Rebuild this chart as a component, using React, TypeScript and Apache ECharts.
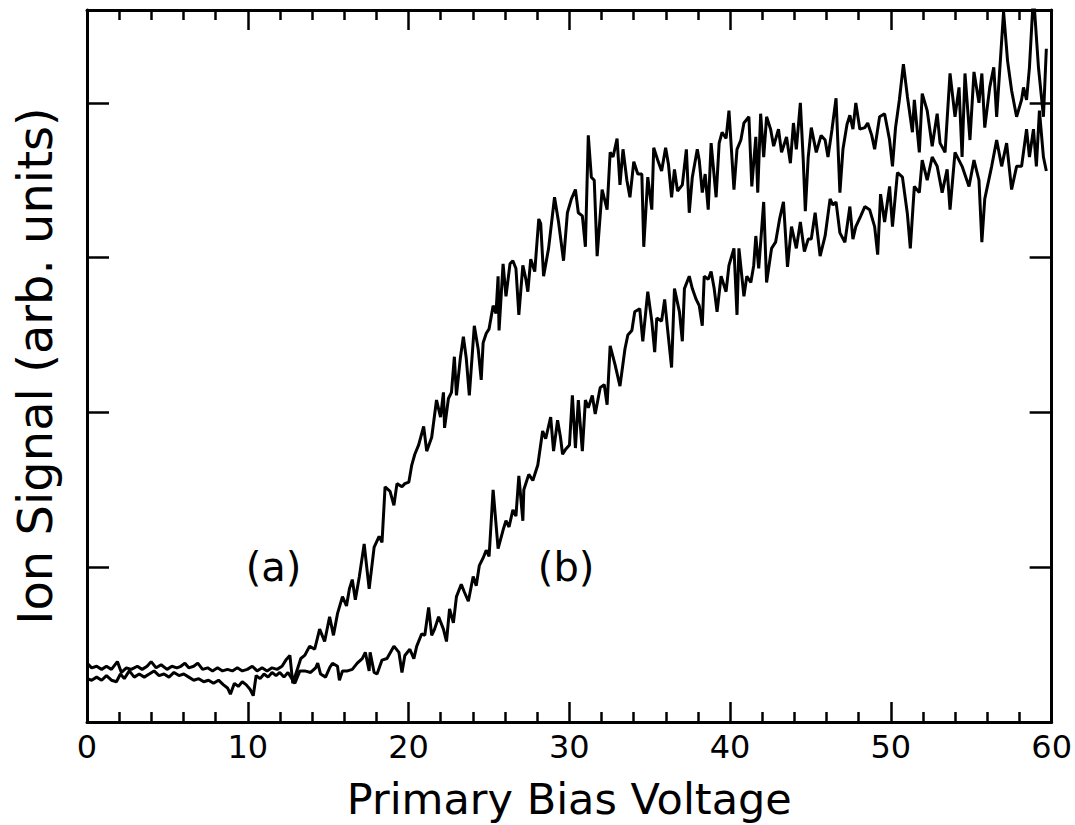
import React, { useEffect, useRef } from "react";
import * as echarts from "echarts";

const xTicks = { min: 0, max: 60, interval: 10 };
const yRange = { min: 0, max: 4.6, interval: 1 };
const xTitle = "Primary Bias Voltage";
const yTitle = "Ion Signal (arb. units)";

const annotations: [number, number, string][] = [
  [11.6, 1.0, "(a)"],
  [29.8, 1.0, "(b)"],
];

const curveA: [number, number][] = [
  [0, 0.38], [0.29, 0.35], [0.6, 0.36], [0.91, 0.34], [1.21, 0.36], [1.52, 0.34], [1.89, 0.39], [2.14, 0.32],
  [2.45, 0.35], [2.76, 0.34], [3.13, 0.36], [3.43, 0.34], [3.74, 0.36], [3.99, 0.39], [4.3, 0.35], [4.61, 0.37],
  [4.98, 0.34], [5.28, 0.36], [5.59, 0.35], [5.84, 0.36], [6.09, 0.38], [6.33, 0.35], [6.64, 0.36], [6.89, 0.38],
  [7.19, 0.34], [7.5, 0.35], [7.81, 0.33], [8.12, 0.35], [8.43, 0.33], [8.74, 0.34], [9.04, 0.33], [9.35, 0.35],
  [9.66, 0.33], [9.97, 0.34], [10.28, 0.36], [10.58, 0.33], [10.89, 0.35], [11.2, 0.33], [11.51, 0.35], [11.82, 0.34],
  [12.13, 0.36], [12.37, 0.4], [12.62, 0.43], [12.8, 0.25], [13.05, 0.33], [13.3, 0.41], [13.54, 0.43], [13.85, 0.49],
  [14.16, 0.47], [14.47, 0.6], [14.78, 0.52], [15.09, 0.68], [15.33, 0.56], [15.58, 0.7], [15.89, 0.81], [16.14, 0.75],
  [16.32, 0.86], [16.5, 0.92], [16.69, 0.79], [16.94, 0.94], [17.24, 1.15], [17.55, 0.86], [17.86, 1.13], [18.17, 1.2],
  [18.35, 1.16], [18.54, 1.52], [18.85, 1.49], [19.09, 1.4], [19.28, 1.54], [19.59, 1.52], [19.77, 1.54], [20.02, 1.55],
  [20.2, 1.66], [20.39, 1.73], [20.63, 1.79], [20.94, 1.91], [21.13, 1.75], [21.44, 1.84], [21.74, 2.08], [21.99, 1.97],
  [22.17, 2.13], [22.24, 1.9], [22.48, 2.09], [22.67, 2.13], [22.85, 2.36], [22.98, 2.11], [23.22, 2.35], [23.41, 2.49],
  [23.59, 2.35], [23.78, 2.11], [24.09, 2.56], [24.33, 2.41], [24.52, 2.21], [24.64, 2.45], [24.83, 2.51], [25.01, 2.54],
  [25.26, 2.69], [25.44, 2.64], [25.57, 2.88], [25.63, 2.53], [25.88, 2.96], [26.06, 2.75], [26.31, 2.96], [26.49, 2.98],
  [26.68, 2.93], [26.86, 2.63], [27.11, 2.95], [27.3, 2.86], [27.42, 2.78], [27.6, 2.99], [27.85, 2.91], [28.1, 3.25],
  [28.22, 3.22], [28.4, 2.88], [28.71, 3.06], [29.08, 3.39], [29.33, 3.23], [29.64, 2.98], [29.88, 3.29], [30.13, 3.38],
  [30.38, 3.44], [30.56, 3.29], [30.81, 3.27], [31.0, 3.07], [31.18, 3.79], [31.37, 3.52], [31.55, 3.5], [31.73, 3.01],
  [32.04, 3.44], [32.35, 3.31], [32.54, 3.68], [32.72, 3.65], [32.97, 3.77], [33.15, 3.47], [33.34, 3.7], [33.58, 3.5],
  [33.77, 3.39], [34.01, 3.62], [34.26, 3.54], [34.51, 3.54], [34.63, 3.07], [34.88, 3.52], [35.13, 3.31], [35.25, 3.71],
  [35.5, 3.63], [35.74, 3.56], [35.99, 3.71], [36.17, 3.6], [36.36, 3.39], [36.54, 3.57], [36.73, 3.43], [37.03, 3.47],
  [37.28, 3.7], [37.46, 3.29], [37.65, 3.52], [37.96, 3.7], [38.08, 3.63], [38.27, 3.42], [38.45, 3.54], [38.64, 3.31],
  [38.82, 3.74], [39.13, 3.39], [39.32, 3.74], [39.5, 3.81], [39.75, 3.77], [39.93, 3.95], [40.24, 3.44], [40.43, 3.7],
  [40.67, 3.76], [40.86, 3.87], [41.17, 3.91], [41.35, 3.46], [41.6, 3.78], [41.72, 3.42], [41.9, 3.93], [42.09, 3.65],
  [42.27, 3.91], [42.52, 3.83], [42.71, 3.72], [43.01, 3.83], [43.2, 3.68], [43.51, 3.78], [43.75, 3.61], [43.94, 3.87],
  [44.12, 3.7], [44.37, 4.0], [44.55, 3.63], [44.68, 3.3], [44.86, 3.65], [45.05, 3.84], [45.36, 3.68], [45.66, 3.79],
  [45.91, 3.76], [46.09, 3.65], [46.34, 3.83], [46.59, 4.03], [46.83, 3.42], [47.02, 3.7], [47.27, 3.86], [47.45, 3.92],
  [47.64, 3.83], [47.82, 4.0], [48.07, 3.83], [48.38, 3.84], [48.56, 3.87], [48.81, 3.79], [48.99, 3.7], [49.3, 3.91],
  [49.61, 3.93], [49.92, 3.76], [50.1, 3.59], [50.29, 3.84], [50.53, 4.02], [50.78, 4.25], [51.03, 4.04], [51.34, 3.81],
  [51.46, 4.02], [51.77, 3.68], [51.95, 4.06], [52.26, 3.95], [52.57, 3.72], [52.88, 3.93], [53.06, 3.74], [53.37, 3.68],
  [53.68, 4.19], [53.99, 3.91], [54.24, 4.1], [54.43, 3.65], [54.61, 4.19], [54.92, 3.76], [55.17, 4.2], [55.48, 4.0],
  [55.66, 4.19], [55.84, 3.84], [56.15, 4.1], [56.4, 4.23], [56.58, 3.91], [57.01, 4.59], [57.26, 4.27], [57.51, 4.08],
  [57.82, 3.91], [58.13, 4.02], [58.25, 4.1], [58.44, 4.02], [58.62, 4.23], [58.87, 4.7], [59.18, 4.23], [59.49, 3.91],
  [59.67, 4.35],
];

const curveB: [number, number][] = [
  [0, 0.28], [0.29, 0.27], [0.6, 0.29], [0.91, 0.27], [1.21, 0.3], [1.52, 0.27], [1.83, 0.26], [2.08, 0.31],
  [2.32, 0.28], [2.63, 0.33], [2.94, 0.29], [3.25, 0.31], [3.56, 0.29], [3.87, 0.31], [4.17, 0.33], [4.48, 0.3],
  [4.79, 0.31], [5.1, 0.29], [5.41, 0.32], [5.72, 0.3], [6.02, 0.31], [6.33, 0.29], [6.64, 0.27], [6.95, 0.28],
  [7.26, 0.26], [7.56, 0.27], [7.87, 0.25], [8.18, 0.27], [8.49, 0.24], [8.74, 0.22], [8.92, 0.18], [9.17, 0.25],
  [9.41, 0.23], [9.66, 0.26], [9.91, 0.24], [10.15, 0.21], [10.34, 0.17], [10.52, 0.3], [10.77, 0.28], [11.01, 0.31],
  [11.26, 0.29], [11.51, 0.32], [11.76, 0.3], [11.99, 0.32], [12.25, 0.29], [12.5, 0.32], [12.74, 0.28], [12.93, 0.25],
  [13.24, 0.33], [13.54, 0.33], [13.91, 0.32], [14.22, 0.35], [14.35, 0.38], [14.53, 0.31], [14.84, 0.29], [15.09, 0.35],
  [15.27, 0.38], [15.58, 0.36], [15.7, 0.27], [15.89, 0.33], [16.2, 0.33], [16.5, 0.34], [16.81, 0.38], [17.12, 0.41],
  [17.31, 0.45], [17.55, 0.33], [17.61, 0.45], [17.86, 0.32], [18.04, 0.31], [18.35, 0.4], [18.66, 0.41], [19.09, 0.49],
  [19.4, 0.45], [19.59, 0.32], [19.77, 0.43], [20.08, 0.47], [20.33, 0.41], [20.51, 0.49], [20.82, 0.57], [21.01, 0.56],
  [21.25, 0.74], [21.44, 0.56], [21.62, 0.6], [21.87, 0.68], [22.17, 0.6], [22.36, 0.52], [22.55, 0.73], [22.79, 0.64],
  [22.98, 0.81], [23.28, 0.89], [23.47, 0.84], [23.72, 0.78], [24.02, 0.94], [24.21, 0.88], [24.4, 1.01], [24.64, 1.06],
  [24.83, 1.11], [25.01, 1.07], [25.26, 1.5], [25.57, 1.12], [25.88, 1.24], [26.06, 1.3], [26.25, 1.26], [26.49, 1.37],
  [26.68, 1.33], [26.86, 1.59], [27.11, 1.3], [27.17, 1.5], [27.48, 1.6], [27.73, 1.56], [28.04, 1.66], [28.34, 1.88],
  [28.53, 1.83], [28.84, 1.97], [29.02, 1.75], [29.27, 1.95], [29.45, 1.84], [29.58, 1.73], [29.76, 1.76], [30.01, 1.79],
  [30.19, 2.11], [30.38, 1.77], [30.56, 2.08], [30.81, 1.75], [31.0, 2.08], [31.18, 2.03], [31.43, 2.11], [31.61, 1.99],
  [31.92, 2.16], [32.17, 2.18], [32.35, 2.05], [32.54, 2.43], [32.84, 2.31], [33.15, 2.17], [33.46, 2.41], [33.64, 2.5],
  [33.89, 2.53], [34.07, 2.65], [34.38, 2.67], [34.57, 2.46], [34.88, 2.78], [35.13, 2.59], [35.31, 2.39], [35.44, 2.61],
  [35.74, 2.59], [35.93, 2.73], [36.11, 2.54], [36.36, 2.29], [36.54, 2.8], [36.85, 2.65], [37.03, 2.46], [37.16, 2.8],
  [37.46, 2.88], [37.65, 2.8], [37.89, 2.73], [38.08, 2.69], [38.27, 2.56], [38.39, 2.88], [38.64, 2.86], [38.82, 2.91],
  [39.01, 2.8], [39.19, 2.65], [39.44, 2.88], [39.75, 2.78], [39.93, 2.95], [40.24, 3.06], [40.43, 2.63], [40.55, 3.06],
  [40.86, 2.75], [41.04, 2.88], [41.29, 2.84], [41.47, 2.95], [41.6, 3.14], [41.78, 2.93], [42.09, 3.36], [42.27, 2.84],
  [42.58, 3.06], [42.83, 3.1], [43.08, 3.25], [43.32, 3.36], [43.57, 2.94], [43.82, 3.2], [44.12, 3.06], [44.37, 3.23],
  [44.62, 3.04], [44.86, 3.12], [45.05, 3.12], [45.29, 3.29], [45.6, 3.01], [45.91, 3.14], [46.22, 3.38], [46.4, 3.34],
  [46.59, 3.36], [46.83, 3.16], [47.14, 3.1], [47.45, 3.33], [47.64, 3.12], [47.82, 3.2], [48.13, 3.27], [48.38, 3.33],
  [48.68, 3.31], [48.99, 3.2], [49.18, 3.02], [49.36, 3.41], [49.61, 3.23], [49.92, 3.46], [50.1, 3.2], [50.41, 3.55],
  [50.72, 3.52], [51.03, 3.28], [51.21, 3.06], [51.46, 3.46], [51.77, 3.42], [51.95, 3.63], [52.26, 3.5], [52.57, 3.65],
  [52.88, 3.59], [53.19, 3.42], [53.5, 3.57], [53.68, 3.31], [53.99, 3.68], [54.43, 3.59], [54.86, 3.46], [55.17, 3.63],
  [55.48, 3.5], [55.66, 3.1], [55.84, 3.38], [56.27, 3.59], [56.58, 3.76], [56.89, 3.59], [57.2, 3.74], [57.51, 3.44],
  [57.82, 3.59], [58.13, 3.59], [58.44, 3.83], [58.62, 3.65], [58.87, 3.83], [59.05, 3.59], [59.24, 3.95], [59.49, 3.65],
  [59.67, 3.56],
];

const FONT = "DejaVu Sans";
const INK = "#000";

export default function App() {
  const ref = useRef<HTMLDivElement>(null);
  useEffect(() => {
    if (!ref.current) return;
    document.body.style.margin = "0";
    const chart = echarts.init(ref.current, undefined, { renderer: "svg", width: 1075, height: 825 });
    const axisLine = { show: true, onZero: false, lineStyle: { color: INK, width: 3 } };
    const xCommon = {
      type: "value",
      min: xTicks.min,
      max: xTicks.max,
      interval: xTicks.interval,
      axisLine,
      splitLine: { show: false },
      axisTick: { show: true, inside: true, length: 20, lineStyle: { color: INK, width: 2.5 } },
      minorTick: { show: true, splitNumber: 5, length: 10, lineStyle: { color: INK, width: 2.5 } },
      minorSplitLine: { show: false },
    };
    const yCommon = {
      type: "value",
      min: yRange.min,
      max: yRange.max,
      interval: yRange.interval,
      axisLine,
      splitLine: { show: false },
      axisTick: { show: true, inside: true, length: 22, lineStyle: { color: INK, width: 2.5 } },
      axisLabel: { show: false },
    };
    chart.setOption({
      animation: false,
      backgroundColor: "#fff",
      grid: { left: 87, right: 14, top: 10, bottom: 98, containLabel: false },
      xAxis: [
        {
          ...xCommon,
          position: "bottom",
          name: xTitle,
          nameLocation: "middle",
          nameGap: 55,
          nameTextStyle: { fontFamily: FONT, fontSize: 43, color: INK },
          axisLabel: { show: true, margin: 9, fontFamily: FONT, fontSize: 32, color: INK },
        },
        { ...xCommon, position: "top", axisLabel: { show: false } },
      ],
      yAxis: [
        {
          ...yCommon,
          position: "left",
          name: yTitle,
          nameLocation: "middle",
          nameGap: 28,
          nameRotate: 90,
          nameTextStyle: { fontFamily: FONT, fontSize: 48, color: INK },
        },
        { ...yCommon, position: "right" },
      ],
      series: [
        {
          type: "line",
          data: curveA,
          showSymbol: false,
          symbol: "none",
          clip: true,
          lineStyle: { color: INK, width: 3 },
        },
        {
          type: "line",
          data: curveB,
          showSymbol: false,
          symbol: "none",
          clip: true,
          lineStyle: { color: INK, width: 3 },
        },
        {
          type: "scatter",
          data: annotations.map((a) => ({ value: [a[0], a[1]], name: a[2] })),
          symbolSize: 0,
          itemStyle: { opacity: 1, color: INK },
          label: {
            show: true,
            position: "inside",
            formatter: (p: any) => p.name,
            fontFamily: FONT,
            fontSize: 40,
            color: INK,
          },
        },
      ],
    });
    return () => chart.dispose();
  }, []);
  return (
    <div
      ref={ref}
      style={{ position: "absolute", left: 0, top: 0, width: 1075, height: 825, background: "#fff" }}
    />
  );
}
